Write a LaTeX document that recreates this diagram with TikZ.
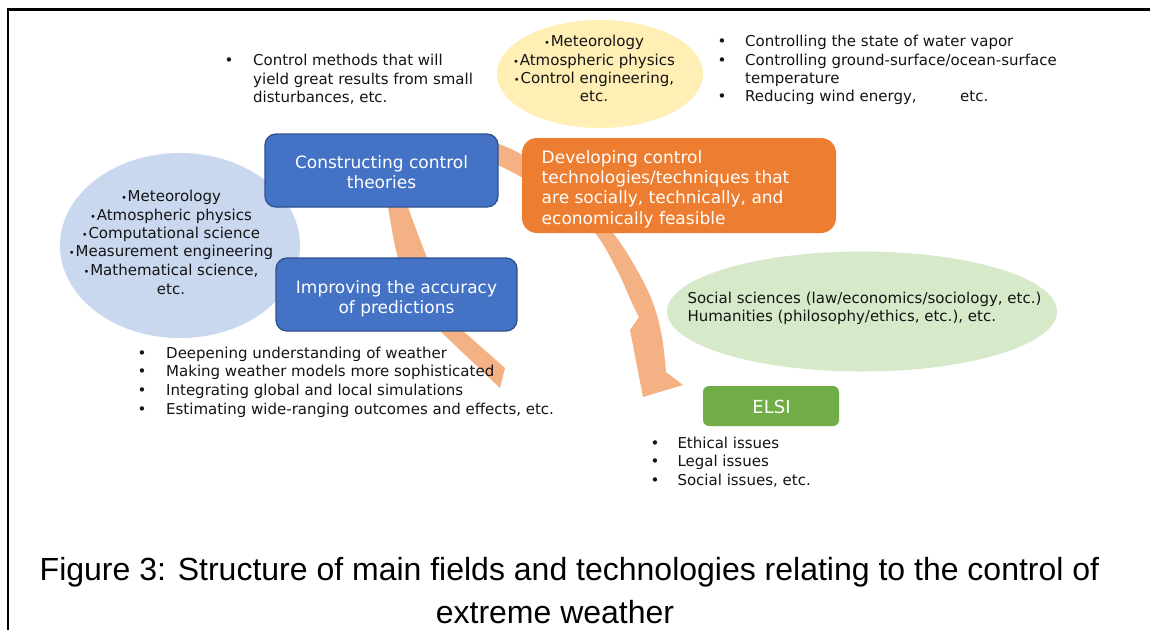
\documentclass[tikz,border=0pt]{standalone}
\usepackage{fontspec}
\newfontfamily\bodyf{DejaVu Sans}
\newfontfamily\capf{Liberation Sans}
\usetikzlibrary{shapes.geometric}
\definecolor{bluebox}{HTML}{4472C4}
\definecolor{blueedge}{HTML}{2F528F}
\definecolor{orangebox}{HTML}{ED7D31}
\definecolor{greenbox}{HTML}{70AD47}
\definecolor{arrowc}{HTML}{F4B183}
\definecolor{ellblue}{HTML}{C9D7EF}
\definecolor{ellyellow}{HTML}{FFEFB5}
\definecolor{ellgreen}{HTML}{D6E9C8}
\definecolor{txtc}{HTML}{141414}
\newcommand\jdot{{\fontsize{10}{10}\selectfont•}\kern0.8pt}
\begin{document}
\begin{tikzpicture}[x=1pt,y=-1pt,
  body/.style={font=\bodyf\fontsize{15}{18.5}\selectfont, inner sep=0pt, text=txtc},
  bl/.style={body, anchor=base west},
  bc/.style={body, anchor=base},
  boxtext/.style={font=\bodyf\fontsize{17}{20}\selectfont, inner sep=0pt, text=white},
  boxtc/.style={boxtext, anchor=base},
  boxtl/.style={boxtext, anchor=base west},
  ell/.style={ellipse, draw=none, inner sep=0pt},
  bluerect/.style={rectangle, rounded corners=11pt, fill=bluebox, draw=blueedge, line width=1.3pt, inner sep=0pt},
  orangerect/.style={rectangle, rounded corners=15pt, fill=orangebox, draw=none, inner sep=0pt},
  greenrect/.style={rectangle, rounded corners=6pt, fill=greenbox, draw=none, inner sep=0pt},
  capt/.style={font=\capf\fontsize{32}{38}\selectfont, inner sep=0pt, text=black, anchor=base},
  band/.style={fill=arrowc, draw=none}
]
\useasboundingbox (0,0) rectangle (1150,630);
\fill[white] (0,0) rectangle (1150,630);

% frame
\coordinate (fTL) at (7.7,9.5);
\coordinate (fTR) at (1150,9.5);
\coordinate (fBL) at (7.7,630);
\draw[line width=2.3pt] ([xshift=-0.9pt]fTL) -- (fTR);
\draw[line width=1.8pt] (fTL) -- (fBL);

% ellipses
\node[ell, fill=ellyellow, minimum width=206pt, minimum height=108pt] (ey) at (600,74) {};
\node[ell, fill=ellblue, minimum width=240pt, minimum height=185pt] (eb) at (180,245.5) {};
\node[ell, fill=ellgreen, minimum width=390pt, minimum height=120pt] (eg) at (862,311.5) {};

% arrows (drawn under boxes)
\fill[band] plot[smooth, tension=0.6] coordinates {(478,134) (498,143.5) (523,155.5) (575,192) (613,233) (637,270) (653,303) (662,337) (666,372)} -- (683,385) -- (643,397) -- (630,330) -- plot[smooth, tension=0.6] coordinates {(639,317) (632,303) (617,270) (595,233) (560,200) (523,178) (498,165) (478,156)} -- cycle;
\fill[band] plot[smooth, tension=0.6] coordinates {(386,195) (388,207) (398,258) (415,300) (440,331)} -- (500,388) -- (505,368) -- plot[smooth, tension=0.6] coordinates {(463,331) (442,298) (427,258) (408,207) (407,195)} -- cycle;

% boxes
\node[bluerect, minimum width=233pt, minimum height=73pt] (bx1) at (381.5,170.5) {};
\node[bluerect, minimum width=241pt, minimum height=73pt] (bx2) at (396.5,294.5) {};
\node[orangerect, minimum width=314pt, minimum height=95pt] (bx3) at (679,185.5) {};
\node[greenrect, minimum width=136pt, minimum height=40pt] (bx4) at (771,406) {};

% box texts
\node[boxtc] (t1a) at (381.5,168.3) {Constructing control};
\node[boxtc] (t1b) at (381.5,188.3) {theories};
\node[boxtc] (t2a) at (396.5,293.3) {Improving the accuracy};
\node[boxtc] (t2b) at (396.5,313.3) {of predictions};
\node[boxtl] (t3a) at (541.5,163.3) {Developing control};
\node[boxtl] (t3b) at (541.5,183.5) {technologies/techniques that};
\node[boxtl] (t3c) at (541.5,203.7) {are socially, technically, and};
\node[boxtl] (t3d) at (541.5,224) {economically feasible};
\node[font=\bodyf\fontsize{18}{20}\selectfont, inner sep=0pt, text=white, anchor=base] (t4) at (771.5,413.3) {ELSI};

% top-left list
\node[bc] (tlb) at (229,65.5) {•};
\node[bl] (tl1) at (253,65.5) {Control methods that will};
\node[bl] (tl2) at (253,84) {yield great results from small};
\node[bl] (tl3) at (253,102.5) {disturbances, etc.};

% yellow ellipse text
\node[bc] (ey1) at (594,46.7) {\jdot Meteorology};
\node[bc] (ey2) at (594,65) {\jdot Atmospheric physics};
\node[bc] (ey3) at (594,83.3) {\jdot Control engineering,};
\node[bc] (ey4) at (594,101.7) {etc.};

% top-right list
\node[bc] (trb1) at (722,46.7) {•};
\node[bc] (trb2) at (722,65) {•};
\node[bc] (trb3) at (722,101.7) {•};
\node[bl] (tr1) at (745,46.7) {Controlling the state of water vapor};
\node[bl] (tr2) at (745,65) {Controlling ground-surface/ocean-surface};
\node[bl] (tr3) at (745,83.3) {temperature};
\node[bl] (tr4) at (745,101.7) {Reducing wind energy,\hspace{43.5pt}etc.};

% blue ellipse text
\node[bc] (eb1) at (171,201.7) {\jdot Meteorology};
\node[bc] (eb2) at (171,220) {\jdot Atmospheric physics};
\node[bc] (eb3) at (171,238.3) {\jdot Computational science};
\node[bc] (eb4) at (171,256.7) {\jdot Measurement engineering};
\node[bc] (eb5) at (171,275) {\jdot Mathematical science,};
\node[bc] (eb6) at (171,294) {etc.};

% green ellipse text
\node[bl] (eg1) at (687.3,303.3) {Social sciences (law/economics/sociology, etc.)};
\node[bl] (eg2) at (687.3,321.7) {Humanities (philosophy/ethics, etc.), etc.};

% bottom-left list
\node[bc] (blb1) at (142,358) {•};
\node[bc] (blb2) at (142,376.7) {•};
\node[bc] (blb3) at (142,395.4) {•};
\node[bc] (blb4) at (142,414.1) {•};
\node[bl] (bl1) at (166,358) {Deepening understanding of weather};
\node[bl] (bl2) at (166,376.7) {Making weather models more sophisticated};
\node[bl] (bl3) at (166,395.4) {Integrating global and local simulations};
\node[bl] (bl4) at (166,414.1) {Estimating wide-ranging outcomes and effects, etc.};

% ELSI list
\node[bc] (elb1) at (655,448.3) {•};
\node[bc] (elb2) at (655,466.7) {•};
\node[bc] (elb3) at (655,485) {•};
\node[bl] (el1) at (677.3,448.3) {Ethical issues};
\node[bl] (el2) at (677.3,466.7) {Legal issues};
\node[bl] (el3) at (677.3,485) {Social issues, etc.};

% caption
\node[capt] (cap1) at (569.5,580.5) {Figure 3: Structure of main fields and technologies relating to the control of};
\node[capt] (cap2) at (555,623.5) {extreme weather};
\end{tikzpicture}
\end{document}
